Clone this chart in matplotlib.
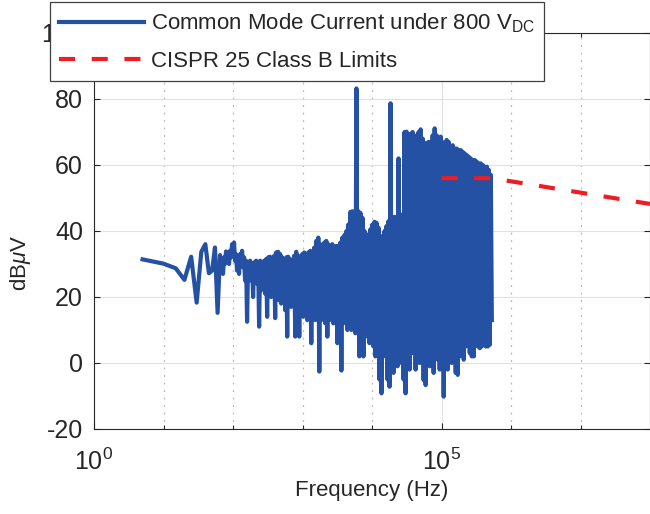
import numpy as np
import matplotlib
matplotlib.use('Agg')
import matplotlib.pyplot as plt
from matplotlib.ticker import FixedLocator, NullFormatter

plt.rcParams['font.family'] = ['Liberation Sans', 'DejaVu Sans']
plt.rcParams['mathtext.fontset'] = 'custom'
plt.rcParams['mathtext.rm'] = 'Liberation Sans'
plt.rcParams['mathtext.it'] = 'Liberation Sans:italic'
plt.rcParams['axes.unicode_minus'] = False

# Low-frequency part of the common mode spectrum (Hz, dBuV)
low_freq = [5, 10, 15, 20, 25, 30, 35, 40, 45, 50, 55, 60]
low_db = [31.4, 30.1, 28.7, 25.2, 32.2, 18.3, 33.7, 36.0, 27.2, 28.0, 35.0, 15.2]

# Dense part of the spectrum, 65 Hz .. 530 kHz: alternating peaks / troughs
band_f_start = 65
band_f_stop = 5.3e5
band_top = [
    32.7, 30, 32, 33.8, 33.5, 34, 36, 36.5, 33, 31,
    33, 34, 32, 31, 30.5, 31, 30, 30.5, 31, 30.4,
    31, 30, 31, 31.5, 32, 32.2, 31, 32.5, 33.5, 33.7,
    33, 32, 31.5, 32, 32.2, 31.5, 31, 32.5, 33.7, 32.5,
    32, 33, 33.5, 33, 33.5, 34, 33.5, 35, 37, 38,
    36, 35.5, 36.5, 37, 36, 35.5, 36, 35, 35.5, 35.5,
    36.5, 38, 38.8, 40, 42, 45.8, 46, 45.5, 83.2, 46,
    45.5, 44, 40, 38.3, 39, 40.5, 42, 42.8, 42.5, 41,
    38, 38.5, 40, 41.5, 43, 78.7, 44, 44.3, 44, 62,
    45, 44, 70, 70.1, 69, 69.5, 70, 68, 69, 70,
    70.8, 68, 66.5, 66.7, 67, 67, 69, 71.1, 69, 68,
    68.6, 66.5, 67, 67.6, 67, 65.5, 66, 65, 65, 64.5,
    64.5, 64, 63.5, 63, 62.5, 62, 61.5, 61.5, 61, 60.5,
    60.5, 60, 59.5, 59.5, 58.5, 57,
]
band_bottom = [
    29, 27, 30, 31, 30, 32, 33, 31, 28, 27,
    30, 29, 25, 12.5, 27, 25, 20, 26, 24, 11,
    22, 24, 21, 14, 22, 20, 21, 13.6, 21, 19,
    18, 19, 16, 8, 18, 17, 19, 8, 16, 8,
    15, 14, 15, 13, 16, 6, 14, 13, 15, -2.6,
    13, 15, 12, 8, 14, 13, 12, 14, 6, 13,
    -2.3, 12, 13, 10, 11, 10, 12, 9, 11, 2,
    9, 2, 8, 10, 6, 8, 5, 2, 6, -5,
    -9.2, 2, 4, -5, -7.2, 3, -3, 4, -1, 2,
    0, -5, -9.2, 0, -2, 3, 3, -2, 2, 0,
    3, -5.2, -6.7, 1, -1, 2, -3, 2, 1, -2,
    0, -10.2, 0, -2, 2, 0, 2, -3, -3.6, 2,
    3, 1, 5, 8, 3, 2, 2, 6, 5, 4.5,
    5, 6, 5, 5, 5.5, 13,
]

# CISPR 25 Class B limit line
limit_freq = [1e5, 5.3e5, 1e8]
limit_db = [56, 56, 48.2]

# Assemble the measured series
band_db = np.empty(2 * len(band_top))
band_db[0::2] = band_top
band_db[1::2] = band_bottom
band_freq = np.geomspace(band_f_start, band_f_stop, len(band_db))
freq = np.concatenate([low_freq, band_freq])
cm_db = np.concatenate([low_db, band_db])

text_color = '#262626'

fig = plt.figure(figsize=(6.5, 5.14), dpi=100)
ax = fig.add_axes([94 / 650, 85 / 514, 556 / 650, 396 / 514])

ax.plot(freq, cm_db, color='#2451a4', lw=3, solid_joinstyle='round',
        label='Common Mode Current under 800 V$_{\\mathrm{DC}}$', zorder=3)
ax.plot(limit_freq, limit_db, color='#ee1c25', lw=3, dashes=(3.85, 4.0),
        label='CISPR 25 Class B Limits', zorder=4)

ax.set_xscale('log')
ax.set_xlim(1, 1e8)
ax.set_ylim(-20, 100)
ax.set_xticks([1, 1e5])
ax.set_xticklabels(['$10^{0}$', '$10^{5}$'])
ax.xaxis.set_minor_locator(FixedLocator([10, 1e2, 1e3, 1e4, 1e6, 1e7]))
ax.xaxis.set_minor_formatter(NullFormatter())
ax.set_yticks(np.arange(-20, 101, 20))

ax.grid(which='major', color='#e0e0e0', lw=0.8, ls='-', zorder=0)
ax.grid(which='minor', axis='x', color='#b8b8b8', lw=0.9,
        ls=(0, (1.5, 4.5)), zorder=0)
ax.set_axisbelow(True)

ax.tick_params(which='both', direction='in', top=True, right=True,
               colors=text_color, labelsize=18, width=0.8)
ax.tick_params(which='major', length=4)
ax.tick_params(which='minor', length=3)
ax.tick_params(axis='x', pad=14)
ax.tick_params(axis='y', pad=8)
for sp in ax.spines.values():
    sp.set_color(text_color)
    sp.set_linewidth(0.8)

ax.set_xlabel('Frequency (Hz)', fontsize=16, color=text_color, labelpad=4)
ax.set_ylabel('dB$\\mu$V', fontsize=16, color=text_color)
ax.yaxis.set_label_coords(-0.11, 0.42)

leg = ax.legend(loc='upper left', bbox_to_anchor=(-0.079, 1.078),
                borderaxespad=0, fontsize=16, handlelength=3.8,
                handletextpad=0.3, borderpad=0.42, labelspacing=0.72,
                fancybox=False, framealpha=1, edgecolor='#404040')
leg.get_frame().set_linewidth(0.9)
for t in leg.get_texts():
    t.set_color(text_color)
leg.set_zorder(10)

plt.savefig('out.png', dpi=100)
